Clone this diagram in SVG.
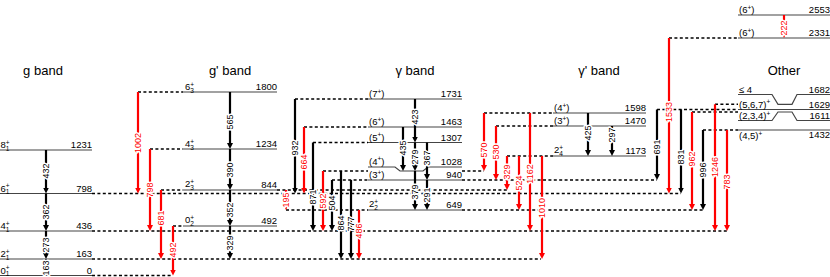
<svg xmlns="http://www.w3.org/2000/svg" width="830" height="277" viewBox="0 0 830 277">
<style>
text{font-family:"Liberation Sans",Arial,sans-serif;fill:#000}
.t{font-size:13px;text-anchor:middle}
.lv{fill:none;stroke:#444;stroke-width:1.2}
.dl{fill:none;stroke:#000;stroke-width:1.4;stroke-dasharray:3 2.4}
.lt{font-size:9.5px}
.le{font-size:9.5px;text-anchor:end}
.sp{font-size:6.5px}
.ak{stroke:#000;stroke-width:2.2;marker-end:url(#mk)}
.ar{stroke:#f00;stroke-width:2.2;marker-end:url(#mr)}
.tk,.tr{font-size:9px;text-anchor:middle;stroke:#fff;stroke-width:3;paint-order:stroke;stroke-linejoin:round}
.tr{fill:#f00}
</style>
<defs>
<marker id="mk" viewBox="0 0 10 10" refX="5" refY="5" markerWidth="6" markerHeight="6" markerUnits="userSpaceOnUse" orient="auto"><path d="M0,0L10,5L0,10z" fill="#000"/></marker>
<marker id="mr" viewBox="0 0 10 10" refX="5" refY="5" markerWidth="6" markerHeight="6" markerUnits="userSpaceOnUse" orient="auto"><path d="M0,0L10,5L0,10z" fill="#f00"/></marker>
</defs>
<rect width="830" height="277" fill="#fff"/>

<g id="titles">
<text class="t" x="43" y="75">g band</text>
<text class="t" x="230" y="75">g' band</text>
<text class="t" x="415" y="75">γ band</text>
<text class="t" x="599" y="75">γ' band</text>
<text class="t" x="784" y="75">Other</text>
</g>

<!-- g band -->
<g id="g8"><path class="lv" d="M0,150H92"/><text class="lt" x="0.5" y="148">8<tspan class="sp" dy="-3.5">+</tspan><tspan class="sp" dx="-3.8" dy="6">1</tspan></text><text class="le" x="92" y="148">1231</text></g>
<g id="g6"><path class="lv" d="M0,193.5H92"/><text class="lt" x="0.5" y="191.5">6<tspan class="sp" dy="-3.5">+</tspan><tspan class="sp" dx="-3.8" dy="6">1</tspan></text><text class="le" x="92" y="191.5">798</text></g>
<g id="g4"><path class="lv" d="M0,231H92"/><text class="lt" x="0.5" y="229">4<tspan class="sp" dy="-3.5">+</tspan><tspan class="sp" dx="-3.8" dy="6">1</tspan></text><text class="le" x="92" y="229">436</text></g>
<g id="g2"><path class="lv" d="M0,259H92"/><text class="lt" x="0.5" y="257">2<tspan class="sp" dy="-3.5">+</tspan><tspan class="sp" dx="-3.8" dy="6">1</tspan></text><text class="le" x="92" y="257">163</text></g>
<g id="g0"><path class="lv" d="M0,275.5H92"/><text class="lt" x="0.5" y="273.5">0<tspan class="sp" dy="-3.5">+</tspan><tspan class="sp" dx="-3.8" dy="6">1</tspan></text><text class="le" x="92" y="273.5">0</text></g>

<!-- g' band -->
<g id="gp6"><path class="lv" d="M183,92H277"/><text class="lt" x="185" y="90">6<tspan class="sp" dy="-3.5">+</tspan><tspan class="sp" dx="-3.8" dy="6">3</tspan></text><text class="le" x="277" y="90">1800</text></g>
<g id="gp4"><path class="lv" d="M183,149H277"/><text class="lt" x="185" y="147">4<tspan class="sp" dy="-3.5">+</tspan><tspan class="sp" dx="-3.8" dy="6">3</tspan></text><text class="le" x="277" y="147">1234</text></g>
<g id="gp2"><path class="lv" d="M183,190H277"/><text class="lt" x="185" y="187">2<tspan class="sp" dy="-3.5">+</tspan><tspan class="sp" dx="-3.8" dy="6">3</tspan></text><text class="le" x="277" y="188">844</text></g>
<g id="gp0"><path class="lv" d="M183,226H277"/><text class="lt" x="185" y="223">0<tspan class="sp" dy="-3.5">+</tspan><tspan class="sp" dx="-3.8" dy="6">2</tspan></text><text class="le" x="277" y="224">492</text></g>

<!-- gamma band -->
<g id="y7"><path class="lv" d="M368,99H462"/><text class="lt" x="369" y="97">(7<tspan class="sp" dy="-3.5">+</tspan><tspan dy="3.5">)</tspan></text><text class="le" x="462" y="97">1731</text></g>
<g id="y6"><path class="lv" d="M368,127H462"/><text class="lt" x="369" y="125">(6<tspan class="sp" dy="-3.5">+</tspan><tspan dy="3.5">)</tspan></text><text class="le" x="462" y="125">1463</text></g>
<g id="y5"><path class="lv" d="M368,142.5H462"/><text class="lt" x="369" y="140.5">(5<tspan class="sp" dy="-3.5">+</tspan><tspan dy="3.5">)</tspan></text><text class="le" x="462" y="140.5">1307</text></g>
<g id="y4"><path class="lv" d="M368,167H395L400,171H423L428,167H462"/><text class="lt" x="369" y="164.5">(4<tspan class="sp" dy="-3.5">+</tspan><tspan dy="3.5">)</tspan></text><text class="le" x="462" y="164.5">1028</text></g>
<g id="y3"><path class="lv" d="M368,180H462"/><text class="lt" x="369" y="178">(3<tspan class="sp" dy="-3.5">+</tspan><tspan dy="3.5">)</tspan></text><text class="le" x="462" y="178">940</text></g>
<g id="y2"><path class="lv" d="M368,210H462"/><text class="lt" x="369" y="207">2<tspan class="sp" dy="-3.5">+</tspan><tspan class="sp" dx="-3.8" dy="6">2</tspan></text><text class="le" x="462" y="208">649</text></g>

<!-- gamma' band -->
<g id="yp4"><path class="lv" d="M553,113H646"/><text class="lt" x="554" y="111">(4<tspan class="sp" dy="-3.5">+</tspan><tspan dy="3.5">)</tspan></text><text class="le" x="646" y="111">1598</text></g>
<g id="yp3"><path class="lv" d="M553,126H646"/><text class="lt" x="554" y="124">(3<tspan class="sp" dy="-3.5">+</tspan><tspan dy="3.5">)</tspan></text><text class="le" x="646" y="124">1470</text></g>
<g id="yp2"><path class="lv" d="M553,156H646"/><text class="lt" x="554" y="153">2<tspan class="sp" dy="-3.5">+</tspan><tspan class="sp" dx="-3.8" dy="6">4</tspan></text><text class="le" x="646" y="154">1173</text></g>

<!-- Other -->
<g id="o2553"><path class="lv" d="M738,15H830"/><text class="lt" x="739" y="13">(6<tspan class="sp" dy="-3.5">+</tspan><tspan dy="3.5">)</tspan></text><text class="le" x="830" y="13">2553</text></g>
<g id="o2331"><path class="lv" d="M738,38H830"/><text class="lt" x="739" y="36">(6<tspan class="sp" dy="-3.5">+</tspan><tspan dy="3.5">)</tspan></text><text class="le" x="830" y="36">2331</text></g>
<g id="o1682"><path class="lv" d="M738,94.5H772L778,104.3H792L797,94.5H830"/><text class="lt" x="739" y="92.5">≤ 4</text><text class="le" x="830" y="92.5">1682</text></g>
<g id="o1629"><path class="lv" d="M738,109.5H830"/><text class="lt" x="739" y="107.5">(5,6,7)<tspan class="sp" dy="-3.5">+</tspan></text><text class="le" x="830" y="107.5">1629</text></g>
<g id="o1611"><path class="lv" d="M738,120.5H772L778,112H792L797,120.5H830"/><text class="lt" x="739" y="119">(2,3,4)<tspan class="sp" dy="-3.5">+</tspan></text><text class="le" x="830" y="119">1611</text></g>
<g id="o1432"><path class="lv" d="M738,130H830"/><text class="lt" x="739" y="139">(4,5)<tspan class="sp" dy="-3.5">+</tspan></text><text class="le" x="830" y="138">1432</text></g>

<g id="connectors">
<g id="dashed">
<path class="dl" d="M92,275.5H173"/>
<path class="dl" d="M92,259H541"/>
<path class="dl" d="M92,231H727"/>
<path class="dl" d="M92,193.5H681"/>
<path class="dl" d="M161,190H183M277,190H507"/>
<path class="dl" d="M173,226H183"/>
<path class="dl" d="M150,149H183"/>
<path class="dl" d="M138,92H183"/>
<path class="dl" d="M295,99H368"/>
<path class="dl" d="M304,127H368"/>
<path class="dl" d="M313,142.5H368"/>
<path class="dl" d="M323,171H368M462,171H484"/>
<path class="dl" d="M332,180H368M462,180H657"/>
<path class="dl" d="M286,210H368M462,210H703"/>
<path class="dl" d="M484,113H553"/>
<path class="dl" d="M496,126H553"/>
<path class="dl" d="M507,156H553"/>
<path class="dl" d="M669,38H738"/>
<path class="dl" d="M715,104.3H738"/>
<path class="dl" d="M657,109.5H738"/>
<path class="dl" d="M692,112H738"/>
<path class="dl" d="M703,130H738"/>
</g>
<g id="arrows">
<path class="ak" d="M46,150V190.5"/>
<path class="ak" d="M46,193.5V228"/>
<path class="ak" d="M46,231V256"/>
<path class="ak" d="M46,259V272.5"/>
<path class="ak" d="M230,92V146"/>
<path class="ak" d="M230,149V187"/>
<path class="ak" d="M230,190V223"/>
<path class="ak" d="M230,226V256"/>
<path class="ar" d="M138,92V190.5"/>
<path class="ar" d="M150,149V228"/>
<path class="ar" d="M161,190V256"/>
<path class="ar" d="M173,226V272.5"/>
<path class="ak" d="M295,99V190.5"/>
<path class="ar" d="M304,127V190.5"/>
<path class="ak" d="M313,142.5V228"/>
<path class="ar" d="M323,171V228"/>
<path class="ak" d="M332,180V228"/>
<path class="ak" d="M341,171V256"/>
<path class="ak" d="M351,180V256"/>
<path class="ar" d="M359,210V256"/>
<path class="ar" d="M286,190V207"/>
<path class="ak" d="M415,99V139.5"/>
<path class="ak" d="M403,127V168"/>
<path class="ak" d="M415,142.5V168"/>
<path class="ak" d="M427,142.5V177"/>
<path class="ak" d="M415,171V207"/>
<path class="ak" d="M427,180V207"/>
<path class="ak" d="M588,113V153"/>
<path class="ak" d="M612,126V153"/>
<path class="ar" d="M484,113V168"/>
<path class="ar" d="M496,126V177"/>
<path class="ar" d="M507,156V187"/>
<path class="ar" d="M519,156V207"/>
<path class="ar" d="M530,113V228"/>
<path class="ar" d="M542,156V256"/>
<path class="ar" d="M784,15V35"/>
<path class="ar" d="M669,38V190.5"/>
<path class="ak" d="M657,109.5V177"/>
<path class="ak" d="M681,109.5V190.5"/>
<path class="ar" d="M692,112V207"/>
<path class="ak" d="M703,130V207"/>
<path class="ar" d="M715,104.3V228"/>
<path class="ar" d="M727,130V228"/>
</g>
<g id="labels">
<text class="tk" transform="translate(46,171) rotate(-90)" dy=".35em">432</text>
<text class="tk" transform="translate(46,212) rotate(-90)" dy=".35em">362</text>
<text class="tk" transform="translate(46,245) rotate(-90)" dy=".35em">273</text>
<text class="tk" transform="translate(46,268) rotate(-90)" dy=".35em">163</text>
<text class="tk" transform="translate(230,122) rotate(-90)" dy=".35em">565</text>
<text class="tk" transform="translate(230,170) rotate(-90)" dy=".35em">390</text>
<text class="tk" transform="translate(230,210) rotate(-90)" dy=".35em">352</text>
<text class="tk" transform="translate(230,243) rotate(-90)" dy=".35em">329</text>
<text class="tr" transform="translate(138,143) rotate(-90)" dy=".35em">1002</text>
<text class="tr" transform="translate(150,190) rotate(-90)" dy=".35em">798</text>
<text class="tr" transform="translate(161,218) rotate(-90)" dy=".35em">681</text>
<text class="tr" transform="translate(173,250) rotate(-90)" dy=".35em">492</text>
<text class="tk" transform="translate(295,148) rotate(-90)" dy=".35em">932</text>
<text class="tr" transform="translate(304,162) rotate(-90)" dy=".35em">664</text>
<text class="tk" transform="translate(313,197) rotate(-90)" dy=".35em">871</text>
<text class="tr" transform="translate(323,201) rotate(-90)" dy=".35em">592</text>
<text class="tk" transform="translate(332,203) rotate(-90)" dy=".35em">504</text>
<text class="tk" transform="translate(341,223) rotate(-90)" dy=".35em">864</text>
<text class="tk" transform="translate(351,224) rotate(-90)" dy=".35em">777</text>
<text class="tr" transform="translate(359,231) rotate(-90)" dy=".35em">486</text>
<text class="tr" transform="translate(286,200) rotate(-90)" dy=".35em">195</text>
<text class="tk" transform="translate(415,117) rotate(-90)" dy=".35em">423</text>
<text class="tk" transform="translate(403,148) rotate(-90)" dy=".35em">435</text>
<text class="tk" transform="translate(415,157) rotate(-90)" dy=".35em">279</text>
<text class="tk" transform="translate(427,158) rotate(-90)" dy=".35em">367</text>
<text class="tk" transform="translate(415,192) rotate(-90)" dy=".35em">379</text>
<text class="tk" transform="translate(427,195) rotate(-90)" dy=".35em">291</text>
<text class="tk" transform="translate(588,133) rotate(-90)" dy=".35em">425</text>
<text class="tk" transform="translate(612,135) rotate(-90)" dy=".35em">297</text>
<text class="tr" transform="translate(484,150) rotate(-90)" dy=".35em">570</text>
<text class="tr" transform="translate(496,152) rotate(-90)" dy=".35em">530</text>
<text class="tr" transform="translate(507,172) rotate(-90)" dy=".35em">329</text>
<text class="tr" transform="translate(519,183) rotate(-90)" dy=".35em">524</text>
<text class="tr" transform="translate(530,174) rotate(-90)" dy=".35em">1162</text>
<text class="tr" transform="translate(542,208) rotate(-90)" dy=".35em">1010</text>
<text class="tr" transform="translate(784,28) rotate(-90)" dy=".35em">222</text>
<text class="tr" transform="translate(669,112) rotate(-90)" dy=".35em">1533</text>
<text class="tk" transform="translate(657,147) rotate(-90)" dy=".35em">691</text>
<text class="tk" transform="translate(681,157) rotate(-90)" dy=".35em">831</text>
<text class="tr" transform="translate(692,159) rotate(-90)" dy=".35em">962</text>
<text class="tk" transform="translate(703,170) rotate(-90)" dy=".35em">996</text>
<text class="tr" transform="translate(715,167) rotate(-90)" dy=".35em">1246</text>
<text class="tr" transform="translate(727,182) rotate(-90)" dy=".35em">783</text>
</g>
</g>
</svg>
